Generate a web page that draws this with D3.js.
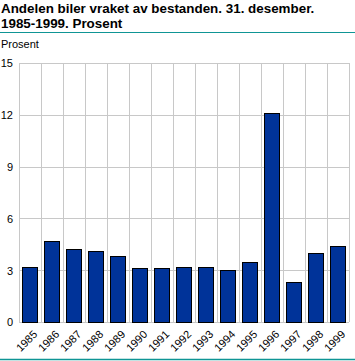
<!DOCTYPE html>
<html><head><meta charset="utf-8">
<script src="https://cdn.jsdelivr.net/npm/d3@7/dist/d3.min.js"></script>
<style>
body{margin:0;padding:0;background:#fff;}
svg{display:block;}
</style></head>
<body>
<script>
const years = ["1985","1986","1987","1988","1989","1990","1991","1992","1993","1994","1995","1996","1997","1998","1999"];
const values = [3.2,4.7,4.2,4.1,3.8,3.1,3.1,3.2,3.2,3.0,3.5,12.1,2.3,4.0,4.4];
const yTicks = [0,3,6,9,12,15];
const titleLines = ["Andelen biler vraket av bestanden. 31. desember.","1985-1999. Prosent"];
const unitLabel = "Prosent";

const W=355,H=361;
const svg=d3.select("body").append("svg").attr("width",W).attr("height",H);
const font="Liberation Sans, Arial, sans-serif";

svg.selectAll("text.title").data(titleLines).join("text")
  .attr("x",1).attr("y",(d,i)=>13+i*15)
  .attr("font-family",font).attr("font-weight","bold").attr("font-size",13.4)
  .attr("fill","#000").text(d=>d);
svg.append("line").attr("x1",0).attr("x2",W).attr("y1",32.5).attr("y2",32.5).attr("stroke","#0f9595").attr("stroke-width",1);
svg.append("line").attr("x1",0).attr("x2",W).attr("y1",359.5).attr("y2",359.5).attr("stroke","#0f9595").attr("stroke-width",1.5);
svg.append("text").attr("x",1).attr("y",48).attr("font-family",font).attr("font-size",11).text(unitLabel);

const x=d3.scaleBand().domain(years).range([19,349]).paddingInner(0.3).paddingOuter(0.15);
const xg=d3.scaleBand().domain(years).range([19,349]);
const y=d3.scaleLinear().domain([0,15]).range([322,63]);

const g=svg.append("g");
g.selectAll("line.h").data(yTicks).join("line")
  .attr("x1",19).attr("x2",349).attr("y1",d=>Math.round(y(d))+0.5).attr("y2",d=>Math.round(y(d))+0.5)
  .attr("stroke","#c8c8c8");
const vx=years.map(d=>xg(d)).concat([349]);
g.selectAll("line.v").data(vx).join("line")
  .attr("x1",d=>Math.round(d)+0.5).attr("x2",d=>Math.round(d)+0.5).attr("y1",63).attr("y2",322)
  .attr("stroke","#c8c8c8");

const yAxis=d3.axisLeft(y).tickValues(yTicks).tickSize(0).tickPadding(0);
const ya=svg.append("g").attr("transform","translate(13,0)").call(yAxis);
ya.select(".domain").remove();
ya.selectAll("text").attr("font-family",font).attr("font-size",11).attr("fill","#000").attr("dy","0.35em");

svg.selectAll("rect.bar").data(years).join("rect")
  .attr("x",d=>Math.round(x(d))+0.5).attr("width",Math.round(x.bandwidth()))
  .attr("y",(d,i)=>Math.round(y(values[i]))+0.5)
  .attr("height",(d,i)=>Math.round(y(0))-Math.round(y(values[i])))
  .attr("fill","#003399").attr("stroke","#000").attr("stroke-width",1);

const xa=svg.append("g").attr("transform","translate(0,322)")
  .call(d3.axisBottom(xg).tickSize(0).tickPadding(0));
xa.select(".domain").remove();
xa.selectAll("text").attr("font-family",font).attr("font-size",11).attr("fill","#000")
  .attr("text-anchor","end").attr("dy",0).attr("y",0)
  .attr("transform","translate(8,13) rotate(-45)");
</script>
</body></html>
